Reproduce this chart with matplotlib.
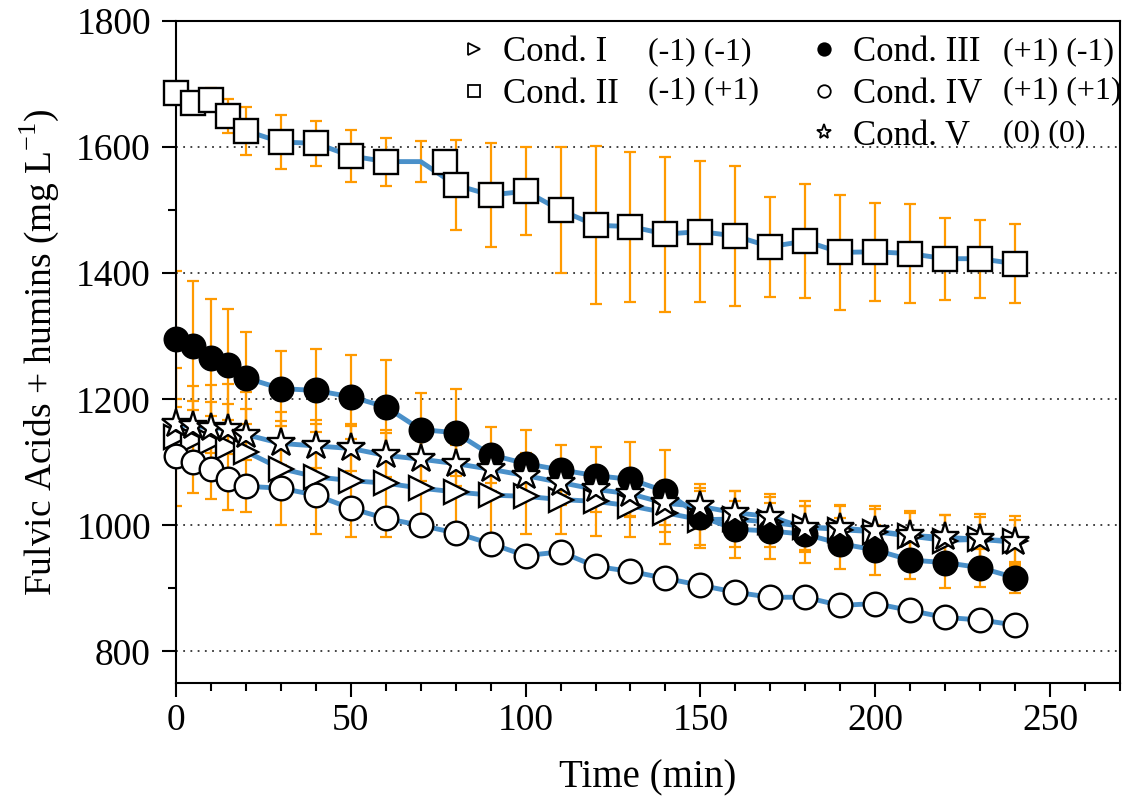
import matplotlib
matplotlib.use('Agg')
import matplotlib.pyplot as plt
from matplotlib.lines import Line2D
from matplotlib.ticker import MultipleLocator

plt.rcParams['font.family'] = ['Liberation Serif', 'DejaVu Serif']
plt.rcParams['mathtext.fontset'] = 'custom'
plt.rcParams['mathtext.rm'] = 'Liberation Serif'

# sampling times (min)
time = [0, 5, 10, 15, 20, 30, 40, 50, 60, 70, 80, 90, 100, 110, 120,
        130, 140, 150, 160, 170, 180, 190, 200, 210, 220, 230, 240]
# in the original the Cond. II marker for t=70 is drawn at t=77
time_II_markers = [0, 5, 10, 15, 20, 30, 40, 50, 60, 77, 80, 90, 100, 110, 120,
                   130, 140, 150, 160, 170, 180, 190, 200, 210, 220, 230, 240]

cond_I = [1140, 1136, 1132, 1124, 1117, 1090, 1077, 1071, 1067, 1059, 1053, 1048, 1046, 1041,
          1038, 1031, 1020, 1009, 1010, 1005, 998, 993, 990, 983, 976, 978, 975]
cond_II = [1686, 1670, 1675, 1649, 1626, 1608, 1606, 1586, 1577, 1577, 1540, 1524, 1530, 1500,
           1476, 1474, 1462, 1466, 1459, 1442, 1451, 1433, 1434, 1431, 1423, 1423, 1415]
cond_III = [1295, 1285, 1266, 1255, 1234, 1217, 1214, 1204, 1188, 1152, 1147, 1112, 1098, 1088,
            1079, 1073, 1054, 1014, 994, 991, 986, 971, 961, 945, 941, 933, 917]
cond_IV = [1110, 1100, 1090, 1074, 1062, 1059, 1048, 1027, 1011, 1000, 988, 971, 952, 958,
           935, 927, 916, 905, 894, 886, 886, 873, 876, 865, 854, 850, 842]
cond_V = [1160, 1157, 1155, 1153, 1144, 1130, 1126, 1122, 1111, 1105, 1098, 1089, 1079, 1068,
          1057, 1050, 1035, 1030, 1020, 1014, 996, 996, 991, 984, 981, 978, 973]

err_I = [110, 85, 90, 100, 95, 90, 90, 90, 85, 75, 75, 65, 60, 55,
         55, 50, 50, 45, 45, 40, 40, 40, 40, 40, 40, 40, 40]
err_II = [15, 15, 18, 27, 38, 43, 36, 41, 38, 33, 71, 83, 70, 100,
          125, 119, 123, 112, 111, 79, 90, 91, 78, 79, 65, 62, 63]
err_III = [108, 102, 93, 88, 73, 60, 66, 67, 75, 58, 69, 44, 53, 40,
           45, 60, 65, 45, 45, 45, 45, 40, 40, 30, 40, 30, 25]
err_IV = [12] * 27
err_V = [40, 40, 40, 40, 40, 35, 35, 35, 35, 35, 35, 35, 35, 35,
         35, 35, 35, 35, 35, 35, 35, 35, 35, 35, 35, 35, 35]

labels = ['Cond. I', 'Cond. II', 'Cond. III', 'Cond. IV', 'Cond. V']
codes = ['(-1) (-1)', '(-1) (+1)', '(+1) (-1)', '(+1) (+1)', '(0) (0)']

blue = '#4a90c9'
orange = '#ff9a00'

fig = plt.figure(figsize=(11.25, 8.02), dpi=100)
ax = fig.add_axes([0.1564, 0.1484, 0.8391, 0.8254])

series = [
    (time, cond_I, err_I, '>', 'white', 17),
    (time_II_markers, cond_II, err_II, 's', 'white', 17),
    (time, cond_III, err_III, 'o', 'black', 17),
    (time, cond_IV, err_IV, 'o', 'white', 17),
    (time, cond_V, err_V, '*', 'white', 21),
]

for mtime, vals, err, mk, fc, ms in series:
    ax.errorbar(time, vals, yerr=err, fmt='none', ecolor=orange,
                elinewidth=1.6, capsize=4, capthick=1.6, zorder=2)
    ax.plot(time, vals, color=blue, lw=3.5, solid_joinstyle='round', zorder=3)
    ax.plot(mtime, vals, ls='none', marker=mk, ms=ms, mfc=fc, mec='black',
            mew=1.7, zorder=4, clip_on=False)

ax.set_xlim(0, 270)
ax.set_ylim(750, 1800)
ax.xaxis.set_major_locator(MultipleLocator(50))
ax.xaxis.set_minor_locator(MultipleLocator(10))
ax.yaxis.set_major_locator(MultipleLocator(200))
ax.yaxis.set_minor_locator(MultipleLocator(100))
ax.tick_params(which='both', direction='out', top=False, right=False, width=1.5)
ax.tick_params(which='major', length=10, labelsize=27)
ax.tick_params(axis='y', which='major', pad=8)
ax.tick_params(axis='x', which='major', pad=5)
ax.tick_params(which='minor', length=6)
for sp in ax.spines.values():
    sp.set_linewidth(1.5)

ax.yaxis.grid(True, which='major', ls=(0, (1, 3)), color='#333333', lw=1.3)
ax.set_axisbelow(True)

ax.set_xlabel('Time (min)', fontsize=28)
ax.set_ylabel('Fulvic Acids + humins (mg L$^{\\mathregular{-1}}$)', fontsize=27)
ax.yaxis.set_label_coords(-0.122, 0.5)
ax.xaxis.set_label_coords(0.5, -0.115)

handles = [Line2D([], [], ls='none', marker=s[3], mfc=s[4], mec='black', mew=1.3,
                  ms=9 if s[3] != '*' else 11) for s in series]

leg_kw = dict(loc='upper left', frameon=False, fontsize=25, handlelength=1.0,
              handletextpad=0.35, borderpad=0, borderaxespad=0, labelspacing=0.25)
leg1 = ax.legend(handles[:2], labels[:2], bbox_to_anchor=(0.297, 0.977), **leg_kw)
ax.add_artist(leg1)
ax.legend(handles[2:], labels[2:], bbox_to_anchor=(0.668, 0.977), **leg_kw)

code_x = [0.5, 0.5, 0.876, 0.876, 0.876]
code_y = [0.954, 0.894, 0.954, 0.894, 0.830]
for cx, cy, c in zip(code_x, code_y, codes):
    ax.text(cx, cy, c, transform=ax.transAxes, fontsize=23, va='center', ha='left')

fig.savefig('out.png', dpi=100)
